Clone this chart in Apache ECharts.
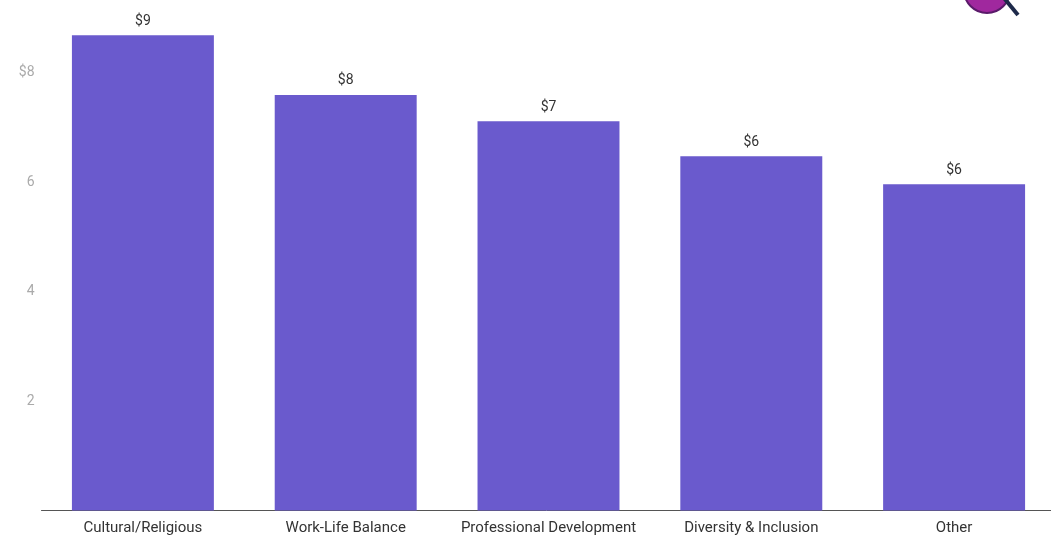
<!DOCTYPE html>
<html>
<head>
<meta charset="utf-8">
<script src="https://cdn.jsdelivr.net/npm/echarts@6/dist/echarts.min.js"></script>
<style>html,body{margin:0;padding:0;background:#fff}#c{width:1051px;height:537px}</style>
</head>
<body>
<div id="c"></div>
<script>
const categories = ['Cultural/Religious', 'Work-Life Balance', 'Professional Development', 'Diversity & Inclusion', 'Other'];
const values = [8.68, 7.59, 7.11, 6.47, 5.96];
const yTicks = [2, 4, 6, 8];

const chart = echarts.init(document.getElementById('c'));
chart.setOption({
  animation: false,
  textStyle: { fontFamily: 'Roboto' },
  grid: { left: 41.5, right: -4.5, top: 17.75, bottom: 26.5, containLabel: false, outerBoundsMode: 'none' },
  xAxis: {
    type: 'category',
    data: categories,
    axisLine: { lineStyle: { color: '#555', width: 1 } },
    axisTick: { show: false },
    axisLabel: { color: '#333', fontSize: 15, margin: 10, interval: 0 }
  },
  yAxis: {
    type: 'value',
    min: 0, max: 9, interval: 2,
    splitLine: { show: false },
    axisLine: { show: false },
    axisTick: { show: false },
    axisLabel: {
      color: '#aaa', fontSize: 14, margin: 7,
      showMaxLabel: false,
      formatter: v => yTicks.includes(v) ? (v === 8 ? '$' + v : String(v)) : ''
    }
  },
  series: [{
    type: 'bar',
    data: values,
    barCategoryGap: '30%',
    itemStyle: { color: '#6a5acd' },
    label: {
      show: true, position: 'top', color: '#333', fontSize: 14, distance: 7,
      formatter: p => '$' + Math.round(p.value)
    }
  }],
  graphic: [
    { type: 'circle', shape: { cx: 987, cy: -10, r: 23 }, style: { fill: '#a0289e', stroke: '#5a1a6a', lineWidth: 2 } },
    { type: 'line', shape: { x1: 1004, y1: -2, x2: 1018, y2: 15 }, style: { stroke: '#1e2a4a', lineWidth: 4 } }
  ]
});
</script>
</body>
</html>
